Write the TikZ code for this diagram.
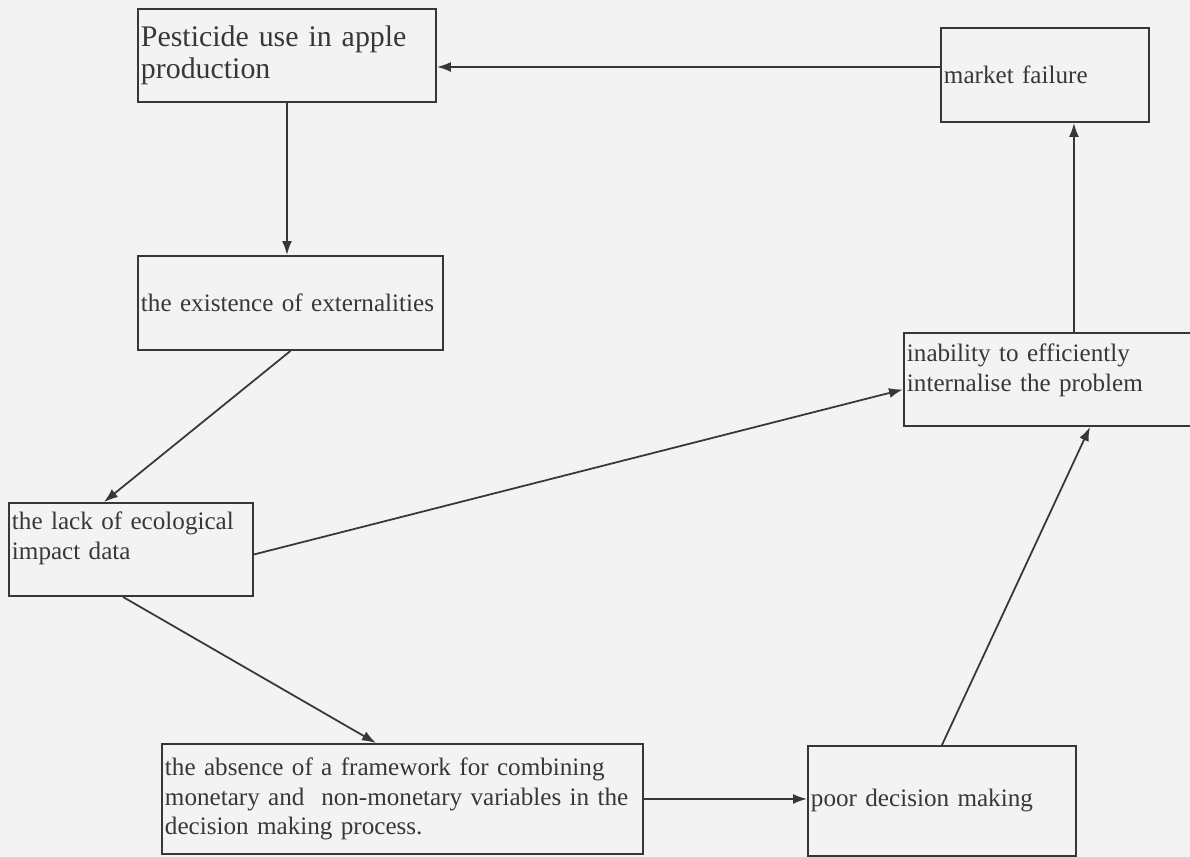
\documentclass[tikz,border=0pt]{standalone}
\usepackage{fontspec}
\setmainfont{Liberation Serif}
\usetikzlibrary{arrows.meta,positioning,calc}
\definecolor{paper}{RGB}{243,243,243}
\definecolor{ink}{RGB}{55,55,55}

\begin{document}
\begin{tikzpicture}[
    box/.style={draw=ink, line width=1.1pt, anchor=north west, align=left, inner xsep=0.06cm, text=ink, font=\fontsize{14.3}{16.8}\selectfont},
    arr/.style={-{Latex[length=0.28cm,width=0.2cm]}, draw=ink, line width=1pt}
]
\fill[paper] (0,0) rectangle (23.8,-17.14);
\useasboundingbox (0,0) rectangle (23.8,-17.14);

\node[box, minimum width=5.96cm, minimum height=1.86cm, text width=5.84cm, font=\fontsize{17}{18.4}\selectfont] (pest) at (2.74,-0.16) {Pesticide use in apple\\production};
\node[box, minimum width=4.16cm, minimum height=1.88cm, text width=4.04cm] (market) at (18.8,-0.54) {market failure};
\node[box, minimum width=6.10cm, minimum height=1.88cm, text width=5.98cm] (extern) at (2.74,-5.10) {the existence of externalities};
\node[box, minimum width=5.84cm, minimum height=1.86cm, text width=5.72cm, text depth=1.06cm] (inab) at (18.06,-6.64) {inability to efficiently\\internalise the problem};
\node[box, minimum width=4.88cm, minimum height=1.86cm, text width=4.76cm, text depth=1.14cm] (lack) at (0.16,-10.04) {the lack of ecological\\impact data};
\node[box, minimum width=9.62cm, minimum height=2.2cm, text width=9.50cm] (frame) at (3.22,-14.86) {the absence of a framework for combining\\monetary and~ non-monetary variables in the\\decision making process.};
\node[box, minimum width=5.36cm, minimum height=2.2cm, text width=5.24cm] (poor) at (16.14,-14.9) {poor decision making};

% the loop
\draw[arr] ([yshift=0.16cm]market.west) -- ([yshift=0.16cm]market.west -| pest.east);
\draw[arr] (pest.south) -- (pest.south |- extern.north);
\draw[arr] (extern.south) -- ([xshift=-0.54cm]lack.north);
\draw[arr] ([yshift=-0.1cm]lack.east) -- ([yshift=-0.2cm]inab.west);
\draw[arr] ([xshift=-0.16cm]lack.south) -- ([xshift=-0.53cm]frame.north);
\draw[arr] (frame.east) -- (frame.east -| poor.west);
\draw[arr] (poor.north) -- ([xshift=3.74cm]inab.south west);
\draw[arr] ([xshift=0.58cm]market.south |- inab.north) -- ([xshift=0.58cm]market.south);
\end{tikzpicture}
\end{document}
